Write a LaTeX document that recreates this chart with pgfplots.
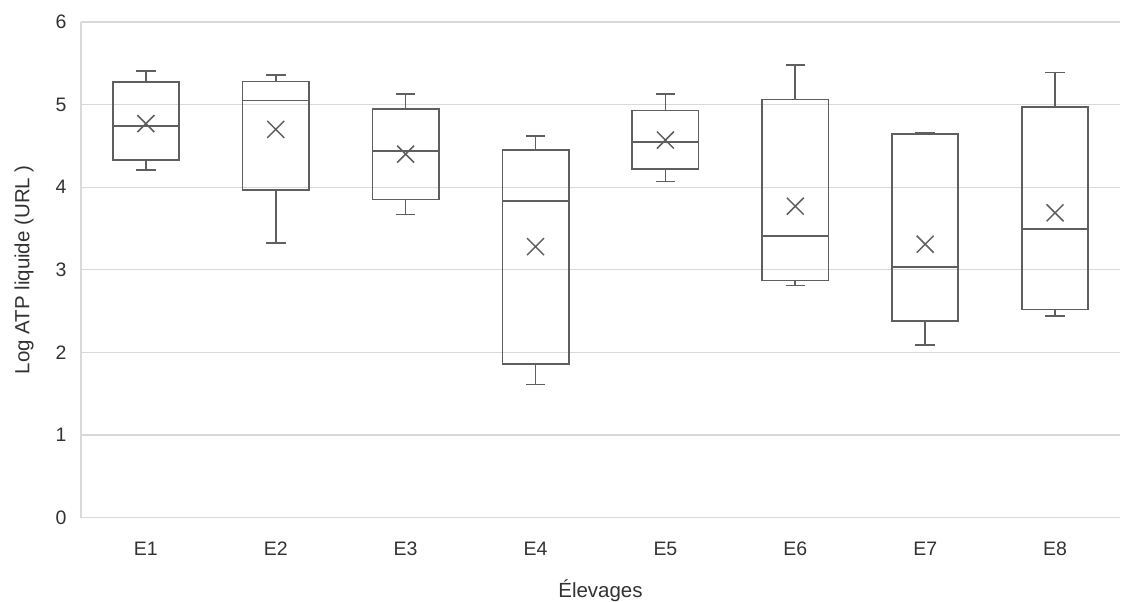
\documentclass[border=0pt]{standalone}
\usepackage{fontspec}
\setmainfont{Liberation Sans}
\usepackage{pgfplots}
\pgfplotsset{compat=1.18}
\usepgfplotslibrary{statistics}
\definecolor{boxcol}{RGB}{95,95,95}
\definecolor{gridcol}{RGB}{217,217,217}
\definecolor{txtcol}{RGB}{50,50,50}
\begin{document}
\begin{tikzpicture}
\begin{axis}[
  scale only axis,
  width=1040pt, height=496pt,
  xmin=0.5, xmax=8.5, ymin=0, ymax=6,
  xtick={1,2,3,4,5,6,7,8},
  xticklabels={E1,E2,E3,E4,E5,E6,E7,E8},
  ytick={0,1,2,3,4,5,6},
  /pgf/number format/assume math mode=true,
  major tick length=0pt,
  ymajorgrids,
  major grid style={gridcol, line width=1.2pt},
  axis line style={gridcol, line width=1.2pt},
  axis x line*=bottom,
  axis y line*=left,
  every axis x line/.append style={-},
  every axis y line/.append style={-},
  tick label style={font=\fontsize{19.5}{22}\selectfont, text=txtcol},
  yticklabel style={anchor=east, xshift=-11pt},
  xticklabel style={anchor=center, yshift=-31pt},
  xlabel={Élevages},
  ylabel={Log ATP liquide (URL )},
  every axis x label/.style={at={(axis description cs:0.5,0)}, anchor=base, yshift=-80pt, font=\fontsize{20.5}{23}\selectfont, text=txtcol},
  every axis y label/.style={at={(axis description cs:-0.0548,0.5)}, rotate=90, anchor=center, font=\fontsize{20.5}{23}\selectfont, text=txtcol},
  boxplot/draw direction=y,
  boxplot/box extend=0.51,
  boxplot/whisker extend=0.15,
  clip=false,
]
\addplot[boxcol, line width=1.7pt, boxplot prepared={lower whisker=4.21, lower quartile=4.33, median=4.74, upper quartile=5.27, upper whisker=5.41, draw position=1}] coordinates {};
\addplot[boxcol, line width=1.7pt, boxplot prepared={lower whisker=3.32, lower quartile=3.97, median=5.05, upper quartile=5.28, upper whisker=5.36, draw position=2}] coordinates {};
\addplot[boxcol, line width=1.7pt, boxplot prepared={lower whisker=3.67, lower quartile=3.85, median=4.44, upper quartile=4.95, upper whisker=5.13, draw position=3}] coordinates {};
\addplot[boxcol, line width=1.7pt, boxplot prepared={lower whisker=1.61, lower quartile=1.86, median=3.83, upper quartile=4.45, upper whisker=4.62, draw position=4}] coordinates {};
\addplot[boxcol, line width=1.7pt, boxplot prepared={lower whisker=4.07, lower quartile=4.22, median=4.55, upper quartile=4.93, upper whisker=5.13, draw position=5}] coordinates {};
\addplot[boxcol, line width=1.7pt, boxplot prepared={lower whisker=2.81, lower quartile=2.87, median=3.41, upper quartile=5.06, upper whisker=5.48, draw position=6}] coordinates {};
\addplot[boxcol, line width=1.7pt, boxplot prepared={lower whisker=2.09, lower quartile=2.38, median=3.03, upper quartile=4.64, upper whisker=4.66, draw position=7}] coordinates {};
\addplot[boxcol, line width=1.7pt, boxplot prepared={lower whisker=2.44, lower quartile=2.52, median=3.49, upper quartile=4.97, upper whisker=5.39, draw position=8}] coordinates {};
\addplot[only marks, mark=x, mark size=12pt, boxcol, mark options={line width=1.5pt}] coordinates {
(1,4.77) (2,4.70) (3,4.40) (4,3.28) (5,4.57) (6,3.77) (7,3.31) (8,3.69)};
\end{axis}
\pgfresetboundingbox
\path[use as bounding box] ([xshift=-81pt,yshift=-84pt]current axis.south west) rectangle ([xshift=11pt,yshift=22pt]current axis.north east);
\end{tikzpicture}
\end{document}
